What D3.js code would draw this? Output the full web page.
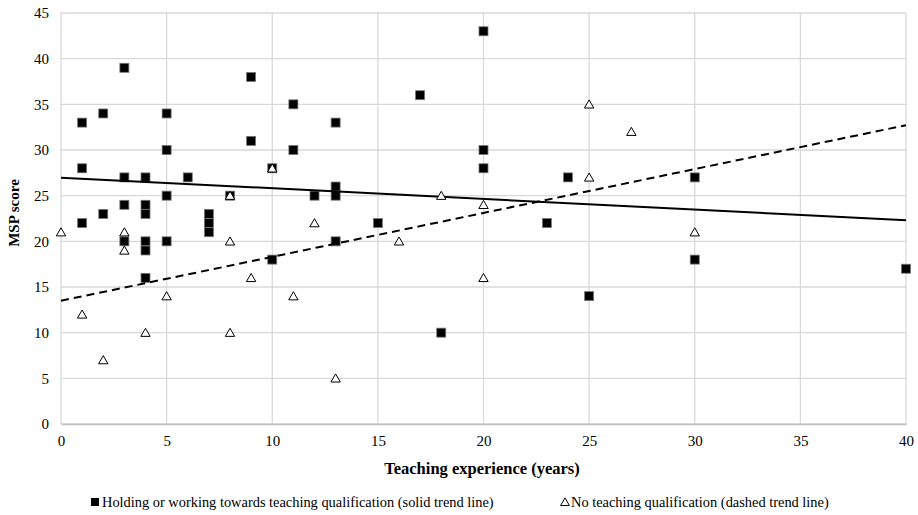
<!DOCTYPE html>
<html>
<head>
<meta charset="utf-8">
<script src="https://cdn.jsdelivr.net/npm/d3@7"></script>
<style>
  body { margin: 0; background: #fff; }
  svg text { font-family: "Liberation Serif", Tinos, "Times New Roman", Times, "DejaVu Serif", "Noto Serif", serif !important; fill: #000; }
</style>
</head>
<body>
<svg id="chart" width="918" height="515"></svg>
<script>
// ---- data ----
const qualifiedX = [1,1,1,2,2,3,3,3,3,4,4,4,4,4,4,5,5,5,5,6,7,7,7,8,9,9,10,10,11,11,12,13,13,13,13,15,17,18,20,20,20,23,24,25,30,30,40];
const qualifiedY = [33,28,22,34,23,39,27,24,20,27,24,23,20,19,16,34,30,25,20,27,23,22,21,25,38,31,28,18,35,30,25,33,26,25,20,22,36,10,43,30,28,22,27,14,27,18,17];
const noQualX = [0,1,2,3,3,4,5,8,8,8,9,10,11,12,13,16,18,20,20,25,25,27,30];
const noQualY = [21,12,7,21,19,10,14,25,20,10,16,28,14,22,5,20,25,24,16,35,27,32,21];
const xTicks = [0,5,10,15,20,25,30,35,40];
const yTicks = [0,5,10,15,20,25,30,35,40,45];
const legendLabels = ["Holding or working towards teaching qualification (solid trend line)", "No teaching qualification (dashed trend line)"];
const xTitle = "Teaching experience (years)";
const yTitle = "MSP score";

// ---- layout ----
const FONT = '"Liberation Serif", Tinos, "Times New Roman", Times, "DejaVu Serif", serif';
const svg = d3.select("#chart");
const pL = 61, pR = 906, pT = 13, pB = 424;
const x = d3.scaleLinear().domain([0, 40]).range([pL, pR]);
const y = d3.scaleLinear().domain([0, 45]).range([pB, pT]);

// gridlines
svg.append("g").selectAll("line").data(yTicks).join("line")
  .attr("x1", pL).attr("x2", pR)
  .attr("y1", d => y(d)).attr("y2", d => y(d))
  .attr("stroke", "#d9d9d9").attr("stroke-width", 1.3);
svg.append("g").selectAll("line").data(xTicks).join("line")
  .attr("y1", pT).attr("y2", pB)
  .attr("x1", d => x(d)).attr("x2", d => x(d))
  .attr("stroke", "#d9d9d9").attr("stroke-width", 1.3);

// axes
const xAxis = svg.append("g").attr("transform", `translate(0,${pB})`)
  .call(d3.axisBottom(x).tickValues(xTicks).tickSize(0).tickPadding(11));
xAxis.attr("font-family", FONT);
xAxis.select(".domain").attr("stroke", "#bfbfbf").attr("stroke-width", 1.3);
xAxis.selectAll("text").attr("font-size", 15).attr("font-family", FONT);

const yAxis = svg.append("g").attr("transform", `translate(${pL},0)`)
  .call(d3.axisLeft(y).tickValues(yTicks).tickSize(0).tickPadding(12));
yAxis.attr("font-family", FONT);
yAxis.select(".domain").remove();
yAxis.selectAll("text").attr("font-size", 15).attr("font-family", FONT);

// titles
svg.append("text").attr("x", 482).attr("y", 474).attr("font-family", FONT)
  .attr("text-anchor", "middle").attr("font-size", 16.5).attr("font-weight", "bold").text(xTitle);
svg.append("text").attr("transform", `translate(19,213) rotate(-90)`).attr("font-family", FONT)
  .attr("text-anchor", "middle").attr("font-size", 15).attr("font-weight", "bold").text(yTitle);

// trend lines (least squares from the data)
function fit(xs, ys) {
  const n = xs.length, mx = d3.mean(xs), my = d3.mean(ys);
  let sxy = 0, sxx = 0;
  for (let i = 0; i < n; i++) { sxy += (xs[i] - mx) * (ys[i] - my); sxx += (xs[i] - mx) ** 2; }
  const b = sxy / sxx; return { a: my - b * mx, b };
}
const fq = fit(qualifiedX, qualifiedY), fn = fit(noQualX, noQualY);
const line = d3.line().x(d => x(d[0])).y(d => y(d[1]));

const qual = qualifiedX.map((v, i) => [v, qualifiedY[i]]);
const noq = noQualX.map((v, i) => [v, noQualY[i]]);

// squares
svg.append("g").selectAll("rect").data(qual).join("rect")
  .attr("x", d => x(d[0]) - 4.5).attr("y", d => y(d[1]) - 4.5)
  .attr("width", 9).attr("height", 9)
  .attr("fill", "#000").attr("stroke", "#777").attr("stroke-width", 0.8);

svg.append("path").datum([[0, fq.a], [40, fq.a + 40 * fq.b]])
  .attr("d", line).attr("fill", "none").attr("stroke", "#000").attr("stroke-width", 2);

// triangles
const tri = d3.symbol().type(d3.symbolTriangle).size(38);
svg.append("g").selectAll("path").data(noq).join("path")
  .attr("d", tri)
  .attr("transform", d => `translate(${x(d[0])},${y(d[1]) + 1})`)
  .attr("fill", "#fff").attr("stroke", "#000").attr("stroke-width", 1);

svg.append("path").datum([[0, fn.a], [40, fn.a + 40 * fn.b]])
  .attr("d", line).attr("fill", "none").attr("stroke", "#000").attr("stroke-width", 2)
  .attr("stroke-dasharray", "8,5");

// legend
const lg = svg.append("g").attr("font-family", FONT);
lg.append("rect").attr("x", 91).attr("y", 498).attr("width", 8).attr("height", 8).attr("fill", "#000");
lg.append("text").attr("x", 102).attr("y", 507).attr("font-size", 14.4).attr("font-family", FONT).text(legendLabels[0]);
lg.append("path").attr("d", d3.symbol().type(d3.symbolTriangle).size(34))
  .attr("transform", "translate(565,503)").attr("fill", "#fff").attr("stroke", "#000").attr("stroke-width", 1);
lg.append("text").attr("x", 571).attr("y", 507).attr("font-size", 14.4).attr("font-family", FONT).text(legendLabels[1]);
</script>
</body>
</html>
